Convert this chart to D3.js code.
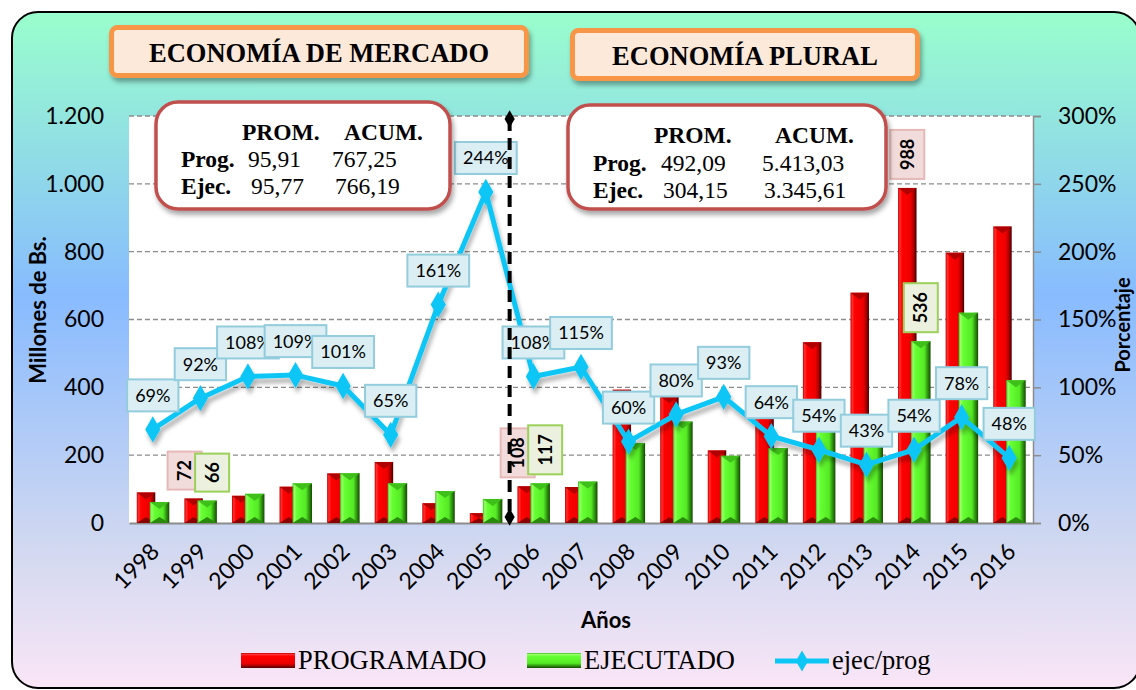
<!DOCTYPE html>
<html><head><meta charset="utf-8">
<script src="https://cdn.jsdelivr.net/npm/d3@7"></script>
<style>body{margin:0;background:#fff;}svg{display:block;}</style>
</head><body>
<svg id="c" width="1136" height="690"></svg>
<script>
const years = ['1998','1999','2000','2001','2002','2003','2004','2005','2006','2007','2008','2009','2010','2011','2012','2013','2014','2015','2016'];
const programado = [90,72,80,107,146,180,58,29,108,106,393,374,214,345,533,679,988,797,874];
const ejecutado  = [62,66,86,117,147,117,94,71,117,122,236,299,198,221,288,292,536,620,421];
const ratio      = [69,92,108,109,101,65,161,244,108,115,60,80,93,64,54,43,54,78,48];
const leftTicks = [0,200,400,600,800,1000,1200];
const rightTicks = [0,50,100,150,200,250,300];
const labeledYears = ['1999','2006','2014'];
const titles = ['ECONOMÍA DE MERCADO','ECONOMÍA PLURAL'];
const statHeaders = ['PROM.','ACUM.'];
const statRows = ['Prog.','Ejec.'];
const statMercado = [['95,91','767,25'],['95,77','766,19']];
const statPlural = [['492,09','5.413,03'],['304,15','3.345,61']];
const legendLabels = ['PROGRAMADO','EJECUTADO','ejec/prog'];
const splitYear = '2006';

const svg = d3.select('#c');
const defs = svg.append('defs');
function grad(id, stops, vertical){
  const g = defs.append('linearGradient').attr('id',id)
    .attr('x1',0).attr('y1',0).attr('x2',vertical?0:1).attr('y2',vertical?1:0);
  stops.forEach(s=>g.append('stop').attr('offset',s[0]).attr('stop-color',s[1]));
}
grad('bg',[[0,'#99ffcc'],[0.42,'#88bbff'],[0.8,'#d3d9f0'],[1,'#fae6f7']],true);
const redStops=[[0,'#c80000'],[0.1,'#ff3030'],[0.22,'#ff0000'],[0.68,'#ee0000'],[0.85,'#a80000'],[1,'#4a0000']];
const greenStops=[[0,'#38c01a'],[0.1,'#9aff6a'],[0.22,'#66ff33'],[0.68,'#55ea25'],[0.85,'#2e9410'],[1,'#144a00']];
grad('red',redStops,false); grad('green',greenStops,false);
grad('redV',redStops,true); grad('greenV',greenStops,true);
const sh = defs.append('filter').attr('id','shadow').attr('x','-20%').attr('y','-20%').attr('width','150%').attr('height','160%');
sh.append('feDropShadow').attr('dx',2).attr('dy',4).attr('stdDeviation',2.5).attr('flood-color','#000').attr('flood-opacity',0.35);
const sh2 = defs.append('filter').attr('id','lshadow').attr('x','-10%').attr('y','-10%').attr('width','120%').attr('height','130%');
sh2.append('feDropShadow').attr('dx',2).attr('dy',5).attr('stdDeviation',2).attr('flood-color','#000').attr('flood-opacity',0.3);

// background
svg.append('rect').attr('x',12).attr('y',12).attr('width',1128).attr('height',676).attr('rx',26)
  .attr('fill','url(#bg)').attr('stroke','#000').attr('stroke-width',2);

const L=129, R=1033, T=116, B=523;
const x = d3.scaleBand().domain(years).range([L,R]).padding(0);
const bw = x.bandwidth();
const cx = d=>x(d)+bw/2;
const yL = d3.scaleLinear().domain([0,1200]).range([B,T]);
const yR = d3.scaleLinear().domain([0,300]).range([B,T]);
const fmt = d3.formatLocale({decimal:',',thousands:'.',grouping:[3],currency:['','']}).format(',');

// plot area
svg.append('rect').attr('x',L).attr('y',T).attr('width',R-L).attr('height',B-T).attr('fill','#fff');
// gridlines
svg.append('g').selectAll('line').data(leftTicks.filter(d=>d>0)).join('line')
  .attr('x1',L).attr('x2',R).attr('y1',d=>yL(d)).attr('y2',d=>yL(d))
  .attr('stroke','#8c8c8c').attr('stroke-width',1.3).attr('stroke-dasharray','5,3');

// left axis
const gl = svg.append('g').attr('transform',`translate(${L},0)`)
  .call(d3.axisLeft(yL).tickValues(leftTicks).tickFormat(fmt).tickSize(0).tickPadding(25));
gl.select('.domain').remove();
gl.selectAll('text').attr('font-family','Lato, sans-serif').attr('font-size',23).attr('fill','#000');
// right axis
const gr = svg.append('g').attr('transform',`translate(${R},0)`)
  .call(d3.axisRight(yR).tickValues(rightTicks).tickFormat(d=>d+'%').tickSize(8).tickPadding(17));
gr.select('.domain').attr('stroke','#8c8c8c').attr('stroke-width',1.5);
gr.selectAll('.tick line').attr('stroke','#8c8c8c').attr('stroke-width',1.5);
gr.selectAll('text').attr('font-family','Lato, sans-serif').attr('font-size',23).attr('fill','#000');
// bottom axis
const gb = svg.append('g').attr('transform',`translate(0,${B})`)
  .call(d3.axisBottom(x).tickSize(0).tickPadding(0));
gb.select('.domain').attr('stroke','#8c8c8c').attr('stroke-width',2);
gb.selectAll('text').attr('font-family','Lato, sans-serif').attr('font-size',23).attr('fill','#000')
  .attr('text-anchor','end').attr('dy',0).attr('y',0)
  .attr('transform',`translate(8,30) rotate(-45)`);

// bars
function drawBars(vals, off, w, fillId, topCol, botCol){
  const g = svg.append('g');
  const data = years.map((yr,i)=>({yr,v:vals[i]}));
  g.selectAll('rect').data(data).join('rect')
    .attr('x',d=>cx(d.yr)+off).attr('width',w)
    .attr('y',d=>yL(d.v)).attr('height',d=>B-yL(d.v)).attr('fill',`url(#${fillId})`);
  g.selectAll('path.top').data(data).join('path').attr('class','top')
    .attr('d',d=>{const x0=cx(d.yr)+off, t=yL(d.v), hh=Math.min(7,(B-t)/2);
      return `M${x0},${t}L${x0+w},${t}L${x0+w/2},${t+hh}Z`;})
    .attr('fill',topCol);
  g.selectAll('path.bot').data(data).join('path').attr('class','bot')
    .attr('d',d=>{const x0=cx(d.yr)+off, t=yL(d.v), hh=Math.min(6,(B-t)/2);
      return `M${x0},${B}L${x0+w},${B}L${x0+w/2},${B-hh}Z`;})
    .attr('fill',botCol);
}
drawBars(programado,-16,18.5,'red','#b00000','#8a0000');
drawBars(ejecutado,-3,19.5,'green','#3fbf1a','#2a8a0c');

// ratio line
const pts = years.map((yr,i)=>({yr,v:ratio[i]}));
const lg = svg.append('g').attr('filter','url(#lshadow)');
lg.append('path').datum(pts).attr('fill','none').attr('stroke','#0cc6f6').attr('stroke-width',5)
  .attr('stroke-linejoin','round')
  .attr('d',d3.line().x(d=>cx(d.yr)).y(d=>yR(d.v)));
lg.selectAll('path.m').data(pts).join('path').attr('class','m')
  .attr('d',d3.symbol(d3.symbolDiamond,200))
  .attr('transform',d=>`translate(${cx(d.yr)},${yR(d.v)})`).attr('fill','#0cc6f6');

// percentage labels
const pl = svg.append('g');
pts.forEach(d=>{
  const g = pl.append('g').attr('transform',`translate(${cx(d.yr)},${yR(d.v)-34})`);
  const r = g.append('rect');
  const t = g.append('text').text(d.v+'%').attr('text-anchor','middle').attr('dy','0.36em')
    .attr('font-family','Lato, sans-serif').attr('font-size',18).attr('fill','#000');
  const w = t.node().getComputedTextLength()+16;
  r.attr('x',-w/2).attr('y',-16).attr('width',w).attr('height',32)
    .attr('fill','#daeef3').attr('stroke','#93cddd').attr('stroke-width',2);
});

// bar value labels
const bl = svg.append('g');
labeledYears.forEach(yr=>{
  const i = years.indexOf(yr);
  const tr = yL(programado[i]), tg = yL(ejecutado[i]);
  const close = Math.abs(tr-tg) < 50;
  [[programado[i], tr, -16+9.25 - (close?9:0), '#f2dcdb', '#e6b9b8'],
   [ejecutado[i], tg, -3+9.75 + (close?5:0), '#ebf1de', '#9bd15a']].forEach(s=>{
    const txt = String(s[0]);
    const h = txt.length>2 ? 49 : 38, w = 34;
    const g = bl.append('g').attr('transform',`translate(${cx(yr)+s[2]},${s[1]-9-h/2})`);
    g.append('rect').attr('x',-w/2).attr('y',-h/2).attr('width',w).attr('height',h)
      .attr('fill',s[3]).attr('stroke',s[4]).attr('stroke-width',2);
    g.append('text').text(txt).attr('transform','rotate(-90)').attr('text-anchor','middle').attr('dy','0.36em')
      .attr('font-family','Lato, sans-serif').attr('font-weight','bold').attr('font-size',18).attr('fill','#000');
  });
});

// split dashed line
const sx = x(splitYear);
svg.append('line').attr('x1',sx).attr('x2',sx).attr('y1',119).attr('y2',517)
  .attr('stroke','#000').attr('stroke-width',4).attr('stroke-dasharray','12,7');
svg.selectAll('path.sd').data([119,517]).join('path').attr('class','sd')
  .attr('d',d3.symbol(d3.symbolDiamond,90)).attr('transform',d=>`translate(${sx},${d})`).attr('fill','#000');

// title boxes
const tb = [[111.5,27.5,415,48,62],[572.5,30.5,345,48,65]];
titles.forEach((t,i)=>{
  const b = tb[i];
  svg.append('rect').attr('x',b[0]).attr('y',b[1]).attr('width',b[2]).attr('height',b[3]).attr('rx',6)
    .attr('fill','#fde9d9').attr('stroke','#f79646').attr('stroke-width',5).attr('filter','url(#shadow)');
  svg.append('text').text(t).attr('x',b[0]+b[2]/2).attr('y',b[4]).attr('text-anchor','middle')
    .attr('font-family','Liberation Serif, serif').attr('font-weight','bold').attr('font-size',26.5).attr('fill','#000');
});

// stat boxes
function statBox(bx,by,bwid,bh,vals,colX,rowY){
  svg.append('rect').attr('x',bx).attr('y',by).attr('width',bwid).attr('height',bh).attr('rx',22)
    .attr('fill','#fff').attr('stroke','#c0504d').attr('stroke-width',3.5).attr('filter','url(#shadow)');
  const f = 'Liberation Serif, serif';
  statHeaders.forEach((h,j)=>svg.append('text').text(h).attr('x',colX[j+1]).attr('y',rowY[0])
    .attr('font-family',f).attr('font-weight','bold').attr('font-size',23.5));
  statRows.forEach((r,k)=>{
    svg.append('text').text(r).attr('x',colX[0]).attr('y',rowY[k+1])
      .attr('font-family',f).attr('font-weight','bold').attr('font-size',23.5);
    vals[k].forEach((v,j)=>svg.append('text').text(v).attr('x',colX[j+3+ (k?2:0)]).attr('y',rowY[k+1])
      .attr('font-family',f).attr('font-size',23.5));
  });
}
statBox(156,102,294,107,statMercado,[181,242,344,248,332,251,335],[140,167,194]);
statBox(568,105,318,104,statPlural,[593,654,775,661,762,663,764],[143,171,198]);

// axis titles
svg.append('text').text('Millones de Bs.').attr('transform','translate(46,310) rotate(-90)')
  .attr('text-anchor','middle').attr('font-family','Lato, sans-serif').attr('font-weight','bold').attr('font-size',22);
svg.append('text').text('Porcentaje').attr('transform','translate(1130,325) rotate(-90)')
  .attr('text-anchor','middle').attr('font-family','Lato, sans-serif').attr('font-weight','bold').attr('font-size',20);
svg.append('text').text('Años').attr('x',(L+R)/2+25).attr('y',628).attr('text-anchor','middle')
  .attr('font-family','Lato, sans-serif').attr('font-weight','bold').attr('font-size',22);

// legend
const lgY = 661;
const legend = svg.append('g');
[['redV',241,legendLabels[0]],['greenV',527,legendLabels[1]]].forEach(s=>{
  legend.append('rect').attr('x',s[1]).attr('y',lgY-8).attr('width',54).attr('height',15).attr('fill',`url(#${s[0]})`);
  legend.append('text').text(s[2]).attr('x',s[1]+57).attr('y',lgY+8)
    .attr('font-family','Liberation Serif, serif').attr('font-size',26.5).attr('fill','#000');
});
legend.append('line').attr('x1',775).attr('x2',829).attr('y1',lgY).attr('y2',lgY).attr('stroke','#0cc6f6').attr('stroke-width',5);
legend.append('path').attr('d',d3.symbol(d3.symbolDiamond,130)).attr('transform',`translate(802,${lgY})`).attr('fill','#0cc6f6');
legend.append('text').text(legendLabels[2]).attr('x',832).attr('y',lgY+8)
  .attr('font-family','Liberation Serif, serif').attr('font-size',26.5).attr('fill','#000');
</script>
</body></html>
